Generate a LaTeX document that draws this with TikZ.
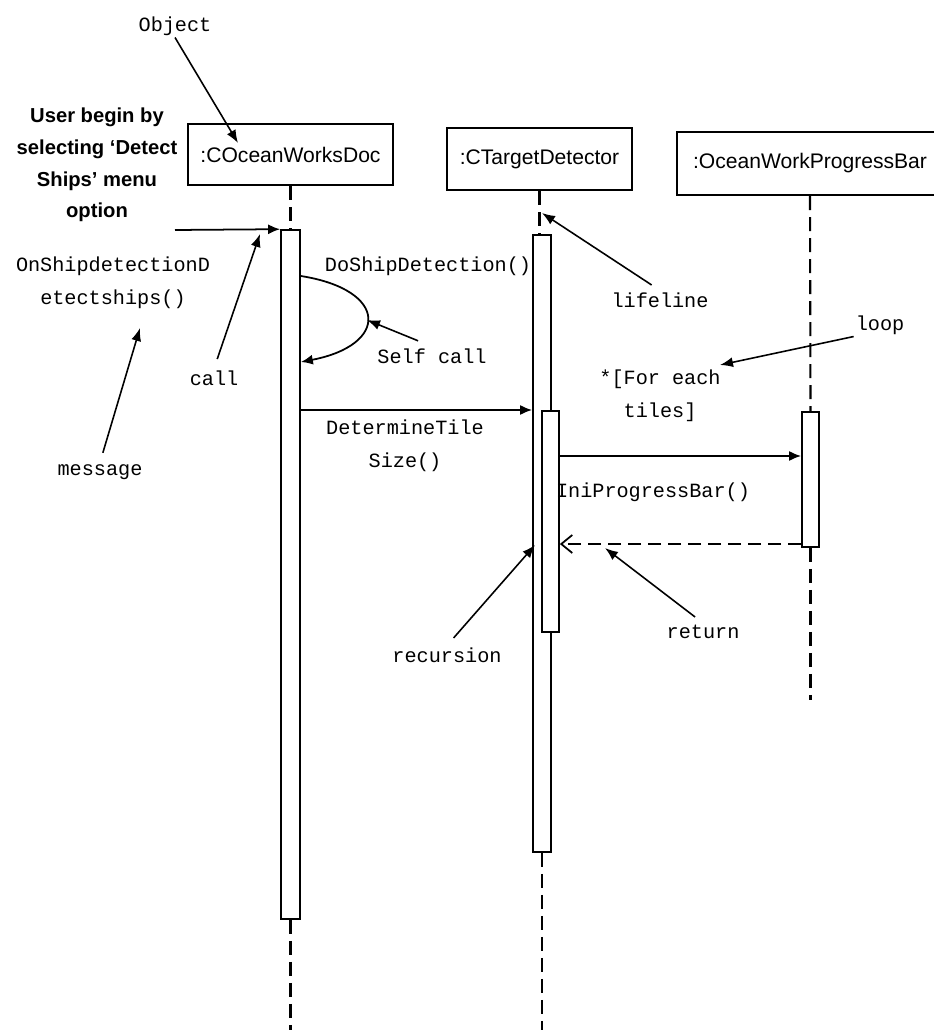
\documentclass[tikz,border=0pt]{standalone}
\usepackage{fontspec}
\setmainfont{Liberation Sans}
\newfontfamily\codefont{Liberation Mono}
\usetikzlibrary{arrows.meta}

\tikzset{
	objbox/.style={draw, line width=1.2pt, inner sep=0pt, font=\fontsize{12}{14}\selectfont},
	actbar/.style={draw, fill=white, line width=1pt, inner sep=0pt},
	life/.style={line width=1.2pt, dash pattern=on 0.28cm off 0.14cm},
	msg/.style={line width=1pt, -{Latex[length=0.24cm,width=0.2cm]}},
	retmsg/.style={line width=1pt, dash pattern=on 0.26cm off 0.14cm, -{Straight Barb[length=0.22cm,width=0.36cm]}},
	note/.style={line width=0.9pt, shorten <=0.2cm, -{Latex[length=0.26cm,width=0.2cm]}},
	code/.style={font=\codefont\fontsize{11.5}{18.7}\selectfont, align=center, inner sep=1pt},
}

\begin{document}
\begin{tikzpicture}[x=0.02cm, y=-0.02cm]
		\useasboundingbox (0,0) rectangle (933,1030);
		% Objekte
		\node[objbox, minimum width=4.1cm, minimum height=1.22cm] (doc) at (290.5,154.5) {:COceanWorksDoc};
		\node[objbox, minimum width=3.7cm, minimum height=1.24cm] (tgt) at (539.5,159) {:CTargetDetector};
		\node[objbox, minimum width=5.32cm, minimum height=1.26cm] (pbox) at (810,163.5) {:OceanWorkProgressBar};
		\coordinate (bottom) at (0,1030);
		\coordinate (pend) at (0,700);
		% Aktivierungsbalken
		\node[actbar, minimum width=0.38cm, minimum height=13.78cm] (docbar) at (290.5,574.5) {};
		\node[actbar, minimum width=0.36cm, minimum height=12.34cm] (tgtbar) at (542,543.5) {};
		\node[actbar, minimum width=0.34cm, minimum height=4.42cm] (recbar) at (550.5,521.5) {};
		\node[actbar, minimum width=0.34cm, minimum height=2.7cm] (pbar) at (810.5,479.5) {};
		% Lebenslinien
		\draw[life] (doc.south) -- (docbar.north);
		\draw[life] (docbar.south) -- (docbar.south |- bottom);
		\draw[life] (tgt.south) -- (tgt.south |- tgtbar.north);
		\draw[life] (tgtbar.south) -- (tgtbar.south |- bottom);
		\draw[life] (pbox.south) -- (pbar.north);
		\draw[life] (pbar.south) -- (pbar.south |- pend);
		% Nachrichten
		\coordinate (ustart) at (175,230);
		\draw[msg] (ustart) -- (docbar.north west);
		\coordinate (s1) at (docbar.east |- 0,276);
		\coordinate (s2) at (docbar.east |- 0,362);
		\draw[msg] (s1) .. controls (389,290) and (389,345) .. (s2);
		\coordinate (m2) at (0,410);
		\draw[msg] (docbar.east |- m2) -- (tgtbar.west |- m2);
		\coordinate (m3) at (0,456);
		\draw[msg] (recbar.east |- m3) -- (pbar.west |- m3);
		\coordinate (m4) at (0,544);
		\draw[retmsg] (pbar.west |- m4) -- (recbar.east |- m4);
		% Beschriftungen
		\node[align=center, font=\bfseries\fontsize{11.5}{18.1}\selectfont] (user) at (97,165) {User begin by\\selecting `Detect\\Ships' menu\\option};
		\node[code] (onship) at (113,283) {OnShipdetectionD\\etectships()};
		\node[code] (doshipl) at (428,266) {DoShipDetection()};
		\node[code] (detl) at (405,446) {DetermineTile\\Size()};
		\node[code] (inil) at (653,492) {IniProgressBar()};
		\node[code] (forl) at (660,396) {*[For each\\tiles]};
		% Hinweise
		\node[code] (objl) at (175,26) {Object};
		\node[code] (msgl) at (100,472) {message};
		\node[code] (calll) at (214,378) {call};
		\node[code] (selfl) at (432,356) {Self call};
		\node[code] (lifel) at (660,300) {lifeline};
		\node[code] (loopl) at (880,325) {loop};
		\node[code] (recl) at (447,655) {recursion};
		\node[code] (retl) at (703,632) {return};
		\coordinate (objtip) at (238,143);
		\coordinate (msgtip) at (140,328);
		\coordinate (calltip) at (260,234);
		\coordinate (selftip) at (367,320);
		\coordinate (lifetip) at (542,213);
		\coordinate (looptip) at (720,365);
		\coordinate (rectip) at (535,545);
		\coordinate (rettip) at (605,548);
		\draw[note, shorten <=0pt] (objl.south) -- (objtip);
		\draw[note] (msgl.north) -- (msgtip);
		\draw[note] (calll.north) -- (calltip);
		\draw[note, shorten <=0.3cm] (selfl.north) -- (selftip);
		\draw[note] (lifel.north) -- (lifetip);
		\draw[note, shorten <=0pt] (loopl.south west) -- (looptip);
		\draw[note] (recl.north) -- (rectip);
		\draw[note] (retl.north) -- (rettip);
\end{tikzpicture}
\end{document}
